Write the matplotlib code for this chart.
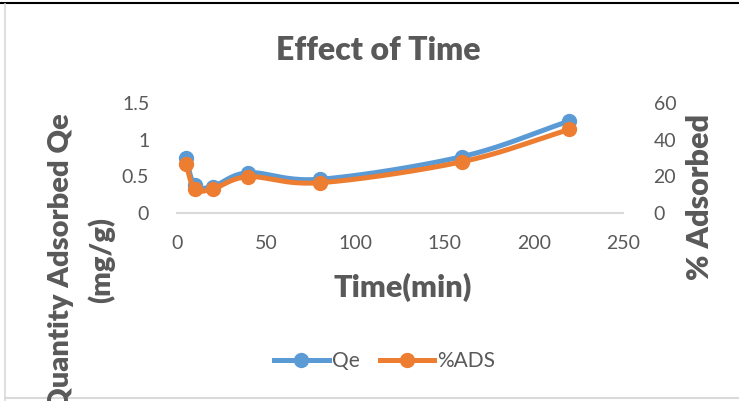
import numpy as np
import matplotlib
matplotlib.use("Agg")
import matplotlib.pyplot as plt
from matplotlib.lines import Line2D

plt.rcParams['font.family'] = ['Lato', 'DejaVu Sans']

# Contact time (min) and measured responses
time_min = [5, 10, 20, 40, 80, 160, 220]
qe = [0.745, 0.38, 0.36, 0.55, 0.46, 0.77, 1.255]
ads_pct = [26.7, 13.1, 13.1, 19.8, 16.5, 28.0, 45.6]

x_ticks = [0, 50, 100, 150, 200, 250]
qe_ticks = [0, 0.5, 1, 1.5]
qe_tick_labels = ['0', '0.5', '1', '1.5']
ads_ticks = [0, 20, 40, 60]

BLUE = '#5B9BD5'
ORANGE = '#ED7D31'
TEXT = '#595959'
LW = 3.6
MS = 10


def smooth(x, y, n=30):
    """Catmull-Rom curve through the points (display of a smoothed line)."""
    x = np.asarray(x, float)
    y = np.asarray(y, float)
    px = np.concatenate([[2 * x[0] - x[1]], x, [2 * x[-1] - x[-2]]])
    py = np.concatenate([[2 * y[0] - y[1]], y, [2 * y[-1] - y[-2]]])
    xs, ys = [], []
    t = np.linspace(0, 1, n)[:, None]
    for i in range(1, len(px) - 2):
        p0, p1, p2, p3 = (np.array([px[j], py[j]]) for j in range(i - 1, i + 3))
        pts = 0.5 * ((2 * p1) + (-p0 + p2) * t + (2 * p0 - 5 * p1 + 4 * p2 - p3) * t ** 2
                     + (-p0 + 3 * p1 - 3 * p2 + p3) * t ** 3)
        xs.extend(pts[:, 0])
        ys.extend(pts[:, 1])
    return np.array(xs), np.array(ys)


fig = plt.figure(figsize=(7.39, 4.01), dpi=100)
ax = fig.add_axes([177 / 739, 1 - 213 / 401, (623 - 177) / 739, 110 / 401])
ax2 = ax.twinx()

sx, sy = smooth(time_min, qe)
ax.plot(sx, sy, color=BLUE, lw=LW, solid_capstyle='round', zorder=3)
ax.plot(time_min, qe, 'o', color=BLUE, ms=MS, zorder=3)

sx2, sy2 = smooth(time_min, ads_pct)
ax2.plot(sx2, sy2, color=ORANGE, lw=LW, solid_capstyle='round', zorder=3)
ax2.plot(time_min, ads_pct, 'o', color=ORANGE, ms=MS, zorder=3)

ax.set_xlim(0, 250)
ax.set_ylim(0, 1.5)
ax2.set_ylim(0, 60)
ax.set_xticks(x_ticks)
ax.set_yticks(qe_ticks)
ax.set_yticklabels(qe_tick_labels)
ax2.set_yticks(ads_ticks)

for a in (ax, ax2):
    for s in a.spines.values():
        s.set_visible(False)
    a.tick_params(length=0, labelsize=14, labelcolor=TEXT)
    a.patch.set_visible(False)
ax.spines['bottom'].set_visible(True)
ax.spines['bottom'].set_color('#D9D9D9')
ax.spines['bottom'].set_linewidth(1.5)
ax.tick_params(axis='x', pad=16)
ax.tick_params(axis='y', pad=20)
ax2.tick_params(axis='y', pad=22)

bold = dict(fontweight='heavy', color=TEXT)
fig.text(378 / 739, 1 - 60 / 401, 'Effect of Time', ha='center', va='baseline',
         fontsize=23, **bold)
fig.text(403 / 739, 1 - 297 / 401, 'Time(min)', ha='center', va='baseline',
         fontsize=22, **bold)
fig.text(61 / 739, 1 - 262 / 401, 'Quantity Adsorbed Qe', ha='center', va='center',
         rotation=90, fontsize=21, **bold)
fig.text(101 / 739, 1 - 260 / 401, '(mg/g)', ha='center', va='center',
         rotation=90, fontsize=21, **bold)
fig.text(700 / 739, 1 - 197 / 401, '% Adsorbed', ha='center', va='center',
         rotation=90, fontsize=22, **bold)

handles = [Line2D([], [], color=BLUE, lw=LW, marker='o', ms=MS),
           Line2D([], [], color=ORANGE, lw=LW, marker='o', ms=MS)]
fig.legend(handles, ['Qe', '%ADS'], loc='center', bbox_to_anchor=(385 / 739, 1 - 361 / 401),
           ncol=2, frameon=False, fontsize=15, labelcolor=TEXT, handlelength=2.6,
           handletextpad=0.15, columnspacing=1.0)

# chart frame
fig.add_artist(Line2D([0, 1], [1 - 3 / 401, 1 - 3 / 401], color='black', lw=1.5,
                      transform=fig.transFigure))
fig.add_artist(Line2D([5 / 739, 5 / 739], [0, 1 - 4 / 401], color='#D9D9D9', lw=1.2,
                      transform=fig.transFigure))
fig.add_artist(Line2D([5 / 739, 1], [1 - 398 / 401, 1 - 398 / 401], color='#D9D9D9', lw=1.5,
                      transform=fig.transFigure))

fig.savefig('out.png', dpi=100)
